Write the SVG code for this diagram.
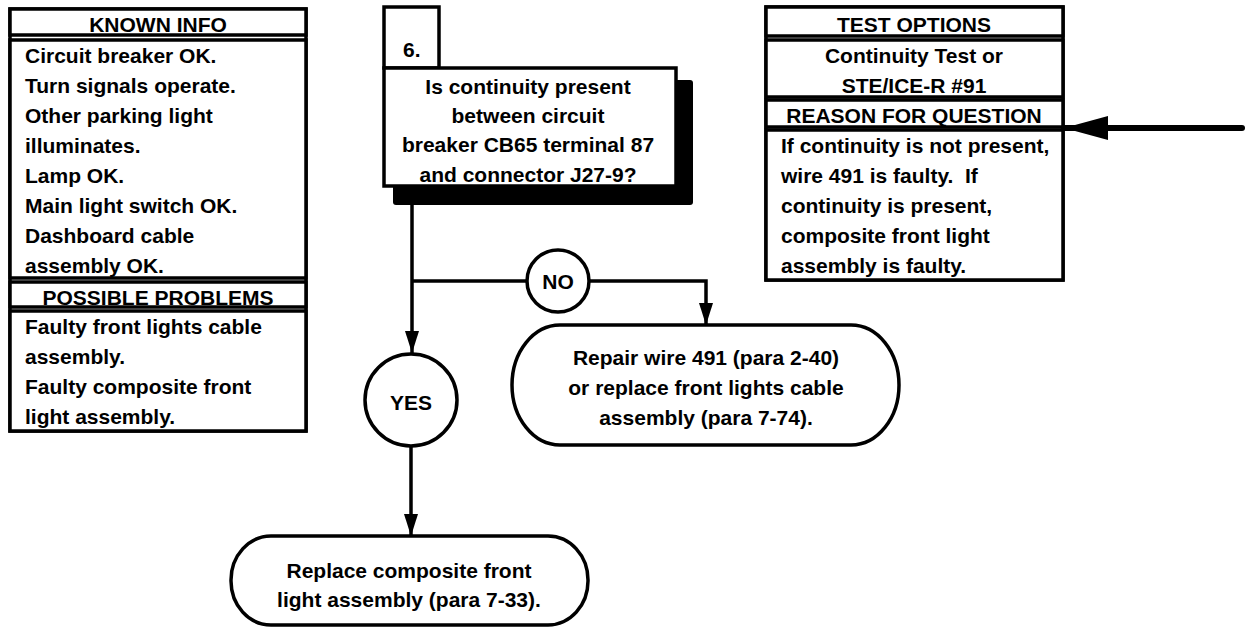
<svg xmlns="http://www.w3.org/2000/svg" width="1249" height="628" viewBox="0 0 1249 628">
<style>
  text { font-family: "Liberation Sans", Arial, sans-serif; font-weight: bold; font-size: 21px; fill: #000; }
  .c { text-anchor: middle; }
  .box { fill: #fff; stroke: #000; stroke-width: 3.5; }
  .line { fill: none; stroke: #000; stroke-width: 3.5; }
</style>
<defs>
  <marker id="arr" markerUnits="userSpaceOnUse" markerWidth="22" markerHeight="14" refX="22" refY="7" orient="auto">
    <path d="M0,0 L22,7 L0,14 z" fill="#000"/>
  </marker>
  <marker id="bigarr" markerUnits="userSpaceOnUse" markerWidth="46" markerHeight="24" refX="44" refY="12" orient="auto">
    <path d="M0,0 L44,12 L0,24 z" fill="#000"/>
  </marker>
</defs>

<g id="known-info">
  <rect class="box" x="10" y="9" width="296" height="422"/>
  <rect class="box" x="10" y="9" width="296" height="26"/>
  <rect class="box" x="10" y="40" width="296" height="238"/>
  <rect class="box" x="10" y="282" width="296" height="25"/>
  <rect class="box" x="10" y="311" width="296" height="120"/>
  <text class="c" x="158" y="32">KNOWN INFO</text>
  <text x="25" y="63">Circuit breaker OK.</text>
  <text x="25" y="93">Turn signals operate.</text>
  <text x="25" y="123">Other parking light</text>
  <text x="25" y="153">illuminates.</text>
  <text x="25" y="183">Lamp OK.</text>
  <text x="25" y="213">Main light switch OK.</text>
  <text x="25" y="243">Dashboard cable</text>
  <text x="25" y="273">assembly OK.</text>
  <text class="c" x="158" y="305">POSSIBLE PROBLEMS</text>
  <text x="25" y="334">Faulty front lights cable</text>
  <text x="25" y="364">assembly.</text>
  <text x="25" y="394">Faulty composite front</text>
  <text x="25" y="424">light assembly.</text>
</g>

<g id="question-6">
  <rect x="393" y="80" width="300" height="125" rx="3" fill="#000"/>
  <rect class="box" x="384" y="7" width="55" height="61"/>
  <rect class="box" x="384" y="68" width="292" height="118"/>
  <text x="403" y="57">6.</text>
  <text class="c" x="528" y="94">Is continuity present</text>
  <text class="c" x="528" y="123">between circuit</text>
  <text class="c" x="528" y="152">breaker CB65 terminal 87</text>
  <text class="c" x="528" y="182">and connector J27-9?</text>
</g>

<g id="test-options">
  <rect class="box" x="766" y="7" width="297" height="273"/>
  <rect class="box" x="766" y="7" width="297" height="29"/>
  <rect class="box" x="766" y="40" width="297" height="57"/>
  <rect class="box" x="766" y="100" width="297" height="27"/>
  <rect class="box" x="766" y="130" width="297" height="150"/>
  <text class="c" x="914" y="32">TEST OPTIONS</text>
  <text class="c" x="914" y="63">Continuity Test or</text>
  <text class="c" x="914" y="93">STE/ICE-R #91</text>
  <text class="c" x="914" y="123">REASON FOR QUESTION</text>
  <text x="781" y="153">If continuity is not present,</text>
  <text x="781" y="183" xml:space="preserve">wire 491 is faulty.  If</text>
  <text x="781" y="213">continuity is present,</text>
  <text x="781" y="243">composite front light</text>
  <text x="781" y="273">assembly is faulty.</text>
</g>

<g id="no-label">
  <circle class="box" cx="558" cy="281" r="31"/>
  <text class="c" x="558" y="289">NO</text>
</g>

<g id="yes-label">
  <circle class="box" cx="411" cy="400" r="46"/>
  <text class="c" x="411" y="410">YES</text>
</g>

<g id="repair">
  <rect class="box" x="512" y="325" width="387" height="120" rx="48" ry="60"/>
  <text class="c" x="706" y="365">Repair wire 491 (para 2-40)</text>
  <text class="c" x="706" y="395">or replace front lights cable</text>
  <text class="c" x="706" y="425">assembly (para 7-74).</text>
</g>

<g id="replace">
  <rect class="box" x="231" y="536" width="357" height="89" rx="40" ry="44"/>
  <text class="c" x="409" y="578">Replace composite front</text>
  <text class="c" x="409" y="607">light assembly (para 7-33).</text>
</g>

<g id="connectors">
  <path class="line" d="M412,205 L412,353" marker-end="url(#arr)"/>
  <path class="line" d="M412,281 L527,281"/>
  <path class="line" d="M589,281 L706,281 L706,325" marker-end="url(#arr)"/>
  <path class="line" d="M411,446 L411,536" marker-end="url(#arr)"/>
  <path d="M1242,128 L1064,128" fill="none" stroke="#000" stroke-width="6" stroke-linecap="round" marker-end="url(#bigarr)"/>
</g>
</svg>
